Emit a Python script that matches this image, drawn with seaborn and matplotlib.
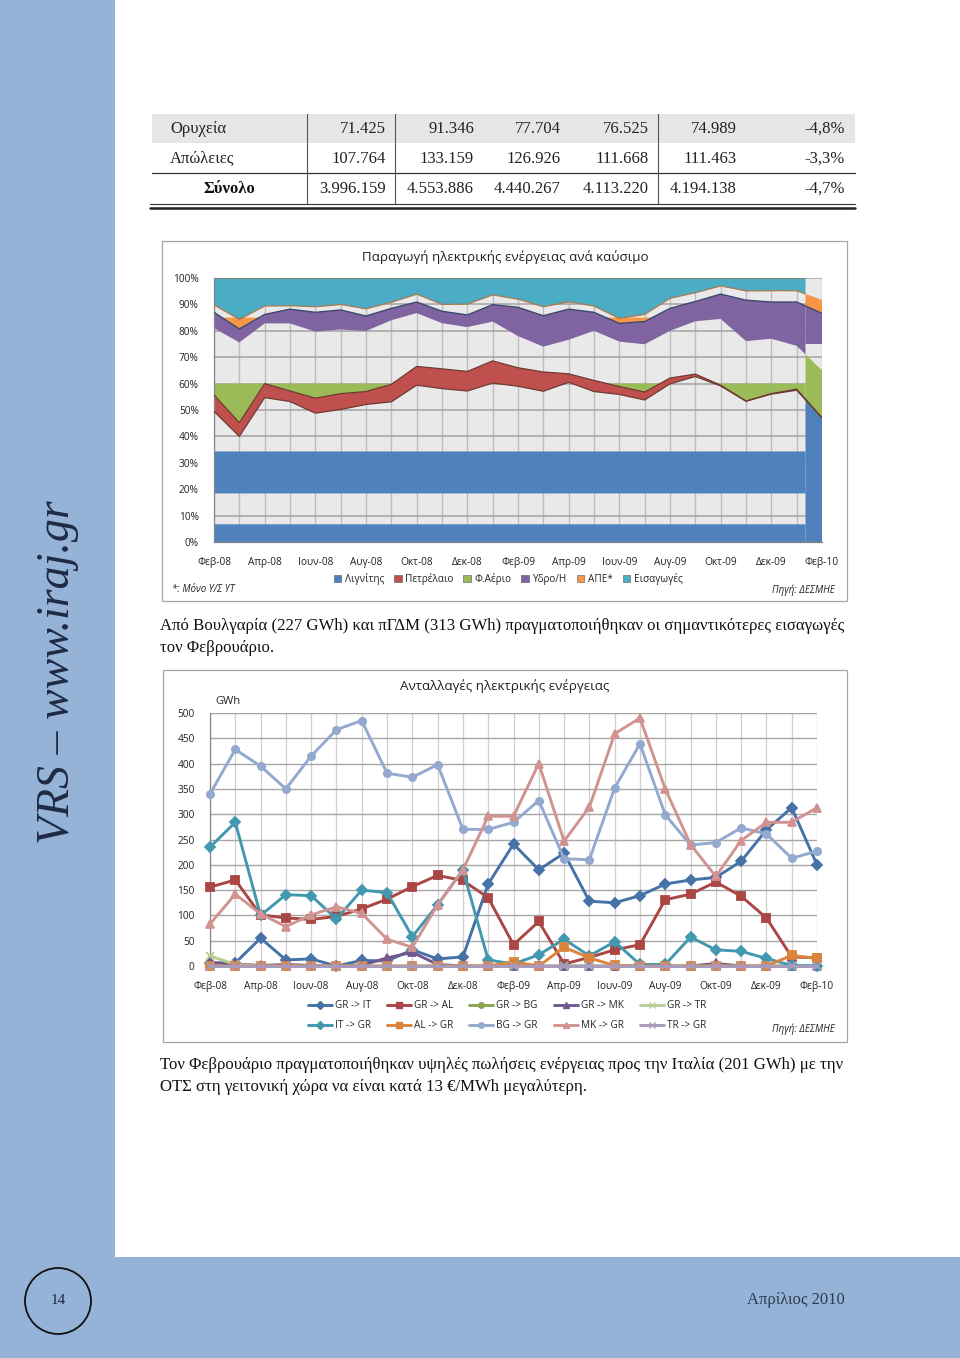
import numpy as np
import pandas as pd
import matplotlib
matplotlib.use("Agg")
import matplotlib.pyplot as plt
from matplotlib.patches import Rectangle, Ellipse
from matplotlib.lines import Line2D
import seaborn as sns

W, H = 960, 1358

MONTHS = ["Φεβ-08", "Μαρ-08", "Απρ-08", "Μαϊ-08", "Ιουν-08", "Ιουλ-08", "Αυγ-08", "Σεπ-08",
          "Οκτ-08", "Νοε-08", "Δεκ-08", "Ιαν-09", "Φεβ-09", "Μαρ-09", "Απρ-09", "Μαϊ-09",
          "Ιουν-09", "Ιουλ-09", "Αυγ-09", "Σεπ-09", "Οκτ-09", "Νοε-09", "Δεκ-09", "Ιαν-10", "Φεβ-10"]

# table at the top of the page
TABLE_LABELS = ["Ορυχεία", "Απώλειες", "Σύνολο"]
TABLE_ROWS = [
    ["71.425", "91.346", "77.704", "76.525", "74.989", "-4,8%"],
    ["107.764", "133.159", "126.926", "111.668", "111.463", "-3,3%"],
    ["3.996.159", "4.553.886", "4.440.267", "4.113.220", "4.194.138", "-4,7%"],
]

# generation share per fuel (%)
FUELS = ["Λιγνίτης", "Πετρέλαιο", "Φ.Αέριο", "Υδρο/Η", "ΑΠΕ*", "Εισαγωγές"]
lignite = [49.5, 40.0, 54.7, 53.2, 48.8, 50.2, 52.1, 53.1, 59.4, 58.1, 57.2, 60.2, 59.0,
           57.1, 60.5, 57.0, 55.9, 53.8, 59.9, 62.7, 59.1, 53.3, 56.0, 57.5, 47.0]
oil = [6.2, 5.2, 5.3, 4.0, 5.7, 6.0, 4.9, 6.6, 7.1, 7.5, 7.4, 8.4, 7.0,
       7.3, 3.2, 4.2, 3.0, 3.0, 2.2, 0.9, 0.3, 0.1, 0.2, 0.4, 0.1]
gas = [25.3, 30.4, 22.8, 25.6, 25.2, 24.3, 22.9, 24.3, 20.2, 17.3, 16.8, 14.9, 12.0,
       9.6, 12.9, 18.8, 17.0, 18.1, 17.9, 20.0, 25.1, 22.7, 20.8, 16.4, 17.9]
hydro = [6.0, 5.1, 3.4, 5.4, 7.3, 7.4, 5.7, 4.5, 4.2, 4.5, 4.6, 6.4, 10.9,
         11.7, 11.6, 7.0, 6.9, 8.6, 8.5, 7.5, 9.4, 15.5, 13.9, 16.6, 21.6]
res = [2.8, 3.6, 3.2, 1.3, 2.1, 2.1, 2.7, 2.3, 3.0, 2.6, 4.1, 3.7, 3.1,
       3.4, 2.8, 2.4, 1.9, 2.7, 3.8, 3.3, 3.1, 3.5, 4.3, 4.3, 5.1]
imports = [10.2, 15.7, 10.6, 10.5, 10.9, 10.0, 11.7, 9.2, 6.1, 10.0, 9.9, 6.4, 8.0,
           10.9, 9.0, 10.6, 15.3, 13.8, 7.7, 5.6, 3.0, 4.9, 4.8, 4.8, 8.3]

# exchanges (GWh)
SERIES = ["GR -> IT", "GR -> AL", "GR -> BG", "GR -> MK", "GR -> TR",
          "IT -> GR", "AL -> GR", "BG -> GR", "MK -> GR", "TR -> GR"]
gr_it = [6, 6, 55, 12, 14, 0, 11, 10, 32, 14, 18, 162, 241, 190, 223, 128, 125, 139, 162, 170, 175, 207, 269, 313, 200]
gr_al = [156, 170, 101, 95, 92, 98, 113, 132, 157, 179, 169, 135, 42, 88, 4, 17, 32, 42, 131, 142, 166, 138, 95, 18, 16]
gr_bg = [0] * 25
gr_mk = [7, 4, 1, 3, 1, 0, 1, 16, 27, 3, 0, 0, 0, 0, 0, 0, 0, 0, 0, 0, 5, 0, 0, 0, 0]
gr_tr = [20, 3] + [0] * 23
it_gr = [235, 284, 100, 141, 139, 93, 150, 145, 58, 121, 190, 12, 4, 22, 53, 20, 48, 3, 3, 57, 32, 29, 15, 1, 0]
al_gr = [0] * 12 + [8, 0, 37, 16, 1, 0, 0, 0, 0, 0, 0, 21, 15]
bg_gr = [340, 428, 395, 350, 415, 467, 485, 381, 373, 398, 270, 270, 284, 327, 212, 210, 352, 439, 299, 239, 244, 273, 261, 213, 227]
mk_gr = [83, 142, 103, 78, 101, 117, 104, 53, 37, 121, 190, 296, 296, 400, 247, 314, 459, 490, 350, 240, 177, 248, 284, 284, 313]
tr_gr = [0] * 25

TEXT_1 = ["Από Βουλγαρία (227 GWh) και πΓΔΜ (313 GWh) πραγματοποιήθηκαν οι σημαντικότερες εισαγωγές",
          "τον Φεβρουάριο."]
TEXT_2 = ["Τον Φεβρουάριο πραγματοποιήθηκαν υψηλές πωλήσεις ενέργειας προς την Ιταλία (201 GWh) με την",
          "ΟΤΣ στη γειτονική χώρα να είναι κατά 13 €/MWh μεγαλύτερη."]

FUEL_COLORS = ["#4F81BD", "#C0504D", "#9BBB59", "#8064A2", "#F79646", "#4BACC6"]
LINE_COLORS = ["#4572A7", "#AA4643", "#89A54E", "#71588F", "#B9CD96",
               "#4198AF", "#DB843D", "#93A9CF", "#D19392", "#A99BBD"]
MARKERS = ["D", "s", "o", "^", "x", "D", "s", "o", "^", "x"]

SERIF = ["Liberation Serif", "DejaVu Serif"]
SANS = ["Open Sans", "DejaVu Sans"]
PAGE_BLUE = "#95B3D7"
INK = "#1F2A44"

sns.set_theme(style="white")
plt.rcParams["font.family"] = SANS
plt.rcParams["axes.unicode_minus"] = False

fig = plt.figure(figsize=(W / 100, H / 100), dpi=100)
fig.patch.set_facecolor("white")


def fx(x):
    return x / W


def fy(y):
    return 1 - y / H


def add_ax(left, top, right, bottom):
    return fig.add_axes([fx(left), fy(bottom), (right - left) / W, (bottom - top) / H])


def rect(x0, y0, x1, y1, **kw):
    fig.add_artist(Rectangle((fx(x0), fy(y1)), (x1 - x0) / W, (y1 - y0) / H,
                             transform=fig.transFigure, **kw))


def hline(x0, x1, y, **kw):
    fig.add_artist(Line2D([fx(x0), fx(x1)], [fy(y), fy(y)], transform=fig.transFigure, **kw))


def vline(x, y0, y1, **kw):
    fig.add_artist(Line2D([fx(x), fx(x)], [fy(y0), fy(y1)], transform=fig.transFigure, **kw))


def text(x, y, s, **kw):
    fig.text(fx(x), fy(y), s, **kw)


# ---- page frame ----
rect(0, 0, 115, H, facecolor=PAGE_BLUE, edgecolor="none", zorder=-2)
rect(0, 1257, W, H, facecolor=PAGE_BLUE, edgecolor="none", zorder=-2)
text(58, 672, "VRS – www.iraj.gr", rotation=90, ha="center", va="center", fontsize=33,
     style="italic", family=SERIF, color=INK)
fig.add_artist(Ellipse((fx(58), fy(1301)), 66 / W, 66 / H, transform=fig.transFigure,
                       facecolor="none", edgecolor="#111111", lw=1.3))
text(58, 1301, "14", ha="center", va="center", fontsize=11, family=SERIF, color=INK)
text(845, 1300, "Απρίλιος 2010", ha="right", va="center", fontsize=12, family=SERIF, color="#2E3A50")

# ---- table ----
rect(152, 114, 855, 143, facecolor="#E6E6E6", edgecolor="none", zorder=-1)
hline(152, 855, 173, color="#333333", lw=0.9)
hline(150, 855, 204, color="#333333", lw=0.8)
hline(150, 855, 207.5, color="#222222", lw=1.8)
for vx in [307, 395, 658]:
    vline(vx, 114, 204, color="#555555", lw=0.8)
col_right = [386, 474, 561, 649, 737, 845]
for r, (label, row) in enumerate(zip(TABLE_LABELS, TABLE_ROWS)):
    yy = 129 + 30 * r
    if r == 2:
        text(229, yy, label, ha="center", va="center", fontsize=12, family=SERIF,
             weight="bold", color="#111111")
    else:
        text(170, yy, label, ha="left", va="center", fontsize=12, family=SERIF, color="#222222")
    for cr, val in zip(col_right, row):
        text(cr, yy, val, ha="right", va="center", fontsize=12, family=SERIF, color="#222222")

# ---- body text ----
for i, line in enumerate(TEXT_1):
    text(160, 626 + 22 * i, line, ha="left", va="center", fontsize=12.1, family=SERIF, color="#111111")
for i, line in enumerate(TEXT_2):
    text(160, 1065 + 22 * i, line, ha="left", va="center", fontsize=12.1, family=SERIF, color="#111111")

# ---- chart 1 : generation by fuel ----
rect(162, 241, 847, 601, facecolor="white", edgecolor="#A6A6A6", lw=0.9, zorder=-1)
x_idx = np.arange(len(MONTHS))
shares = [lignite, oil, gas, hydro, res, imports]
tops = np.cumsum(np.array(shares, dtype=float), axis=0)
bottoms = np.vstack([np.zeros(len(MONTHS)), tops[:-1]])

ax1 = add_ax(214, 278, 822, 542)
ax1.set_facecolor("#E9E9E9")
ax1.set_xlim(0, 24)
ax1.set_ylim(0, 100)
for v in x_idx:
    ax1.axvline(v, color="#BDBDBD", lw=1.0, zorder=0.5)
for v in range(10, 101, 10):
    ax1.axhline(v, color="#A3A3A3", lw=1.1, zorder=0.6)

# the PDF export only rendered parts of some areas; reproduce the visible bands
BREAK = 23.35
xa = np.linspace(0, BREAK, 3000)
xb = np.linspace(BREAK, 24, 300)
FULL = [(0, 100)]
bands_main = [[(0, 6.7), (18.4, 34.3)], FULL, [(0, 60)], FULL, [(0, 85)], FULL]
bands_last = [FULL, FULL, FULL, [(75, 100)], FULL, []]

for k in range(len(FUELS)):
    for xs, bands in [(xa, bands_main[k]), (xb, bands_last[k])]:
        lo = np.interp(xs, x_idx, bottoms[k])
        hi = np.interp(xs, x_idx, tops[k])
        for a, b in bands:
            ax1.fill_between(xs, np.clip(lo, a, b), np.clip(hi, a, b), color=FUEL_COLORS[k],
                             lw=0, edgecolor="none", zorder=2)

ax1.plot(x_idx, tops[0], color="#6E3A30", lw=0.9, zorder=3)
ax1.plot(x_idx, tops[1], color="#6E3A30", lw=0.9, zorder=3)
ax1.plot(x_idx, tops[3], color="#3D4870", lw=1.0, zorder=3)
ax1.plot(xa, np.interp(xa, x_idx, tops[4]), color="#A9784F", lw=0.9, zorder=3)
ax1.plot(xa, np.interp(xa, x_idx, tops[5]), color="#9A7A5E", lw=1.0, zorder=3)

ax1.set_xticks(x_idx)
ax1.set_xticklabels([m if i % 2 == 0 else "" for i, m in enumerate(MONTHS)], fontsize=7.3)
ax1.set_yticks(range(0, 101, 10))
ax1.set_yticklabels([f"{v}%" for v in range(0, 101, 10)], fontsize=7.3)
ax1.tick_params(axis="both", direction="out", length=3, width=0.8, color="#868686", pad=2,
                labelcolor="#222222")
ax1.tick_params(axis="x", pad=8)
ax1.tick_params(axis="y", pad=8)
for side in ["top", "right"]:
    ax1.spines[side].set_visible(False)
for side in ["left", "bottom"]:
    ax1.spines[side].set_color("#868686")
    ax1.spines[side].set_linewidth(0.9)
ax1.grid(False)

text(505, 257, "Παραγωγή ηλεκτρικής ενέργειας ανά καύσιμο", ha="center", va="center",
     fontsize=9.6, color="#222222")
fuel_handles = [Rectangle((0, 0), 1, 1, facecolor=c, edgecolor="#555555", lw=0.4) for c in FUEL_COLORS]
fig.legend(fuel_handles, FUELS, loc="center", bbox_to_anchor=(fx(508), fy(579)), ncol=6,
           frameon=False, fontsize=7.2, handlelength=0.75, handleheight=0.75,
           handletextpad=0.35, columnspacing=1.0)
text(172, 590, "*: Μόνο Υ/Σ ΥΤ", ha="left", va="center", fontsize=7, style="italic", color="#222222")
text(835, 590, "Πηγή: ΔΕΣΜΗΕ", ha="right", va="center", fontsize=7, style="italic", color="#222222")

# ---- chart 2 : exchanges ----
rect(163, 670, 847, 1042, facecolor="white", edgecolor="#A6A6A6", lw=0.9, zorder=-1)
values = [gr_it, gr_al, gr_bg, gr_mk, gr_tr, it_gr, al_gr, bg_gr, mk_gr, tr_gr]
df = pd.DataFrame({
    "month": np.tile(x_idx, len(SERIES)),
    "series": np.repeat(SERIES, len(MONTHS)),
    "gwh": np.concatenate([np.array(v, dtype=float) for v in values]),
})

ax2 = add_ax(210, 713, 817, 966)
ax2.set_facecolor("white")
for v in x_idx:
    ax2.axvline(v, color="#CFCFCF", lw=0.9, zorder=0.5)
for v in range(50, 501, 50):
    ax2.axhline(v, color="#A6A6A6", lw=1.0, zorder=0.6)

for name, color, marker in zip(SERIES, LINE_COLORS, MARKERS):
    sub = df[df["series"] == name]
    sns.lineplot(data=sub, x="month", y="gwh", color=color, marker=marker, lw=2.1,
                 markersize=5.2, markeredgewidth=1.3, markeredgecolor=color,
                 legend=False, ax=ax2, zorder=3)
for ln in ax2.lines:
    if ln.get_marker() not in (None, "None", ""):
        ln.set_clip_on(False)

ax2.set_xlim(0, 24)
ax2.set_ylim(0, 500)
ax2.set_xlabel("")
ax2.set_ylabel("")
ax2.set_xticks(x_idx)
ax2.set_xticklabels([m if i % 2 == 0 else "" for i, m in enumerate(MONTHS)], fontsize=7.3)
ax2.set_yticks(range(0, 501, 50))
ax2.set_yticklabels([str(v) for v in range(0, 501, 50)], fontsize=7.3)
ax2.tick_params(axis="both", direction="out", length=3, width=0.8, color="#868686", pad=2,
                labelcolor="#222222")
ax2.tick_params(axis="x", pad=8)
ax2.tick_params(axis="y", pad=8)
for side in ["top", "right"]:
    ax2.spines[side].set_visible(False)
for side in ["left", "bottom"]:
    ax2.spines[side].set_color("#868686")
    ax2.spines[side].set_linewidth(0.9)
ax2.grid(False)

text(505, 686, "Ανταλλαγές ηλεκτρικής ενέργειας", ha="center", va="center", fontsize=9.6, color="#222222")
text(215, 701, "GWh", ha="left", va="center", fontsize=8, color="#222222")

line_handles = [Line2D([0], [0], color=c, marker=m, lw=2.1, markersize=4, markeredgecolor=c)
                for c, m in zip(LINE_COLORS, MARKERS)]
order = [0, 5, 1, 6, 2, 7, 3, 8, 4, 9]
fig.legend([line_handles[i] for i in order], [SERIES[i] for i in order], loc="center",
           bbox_to_anchor=(fx(507), fy(1016)), ncol=5, frameon=False, fontsize=7.2,
           handlelength=2.4, handletextpad=0.3, columnspacing=1.6, labelspacing=0.9)
text(835, 1029, "Πηγή: ΔΕΣΜΗΕ", ha="right", va="center", fontsize=7, style="italic", color="#222222")

fig.savefig("out.png", dpi=100)
